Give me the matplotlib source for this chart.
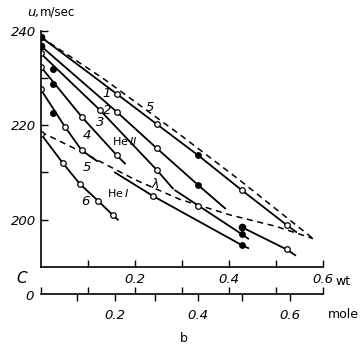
import numpy as np
import matplotlib.pyplot as plt
from matplotlib.ticker import FixedLocator, FuncFormatter

# weight fraction of He3 and sound velocity u (m/sec)
wt1 = [0.0, 0.162, 0.247, 0.335, 0.428, 0.524, 0.543]
u1 = [238.7, 226.6, 220.2, 213.6, 206.2, 198.8, 197.4]
wt2 = [0.0, 0.162, 0.247, 0.335, 0.392]
u2 = [236.8, 222.8, 215.1, 207.3, 202.4]
wt3 = [0.0, 0.126, 0.247, 0.281]
u3 = [235.2, 223.2, 210.5, 206.6]
wt4 = [0.0, 0.087, 0.162, 0.179]
u4 = [232.4, 221.8, 213.6, 211.9]
wt5 = [0.0, 0.052, 0.087, 0.12]
u5 = [227.6, 219.6, 214.7, 212.4]
wt6 = [0.0, 0.047, 0.083, 0.122, 0.154, 0.164]
u6 = [218.2, 212.0, 207.6, 204.0, 200.9, 200.0]

# He I branches
wt7 = [0.428, 0.523, 0.541]
u7 = [198.4, 193.7, 192.5]
wt8 = [0.286, 0.335, 0.428, 0.441]
u8 = [206.2, 203.0, 196.9, 196.0]
wt9 = [0.158, 0.239, 0.428, 0.441]
u9 = [210.0, 205.0, 194.6, 194.0]

# dashed curves
wt_s = [0.0, 0.137, 0.296, 0.424, 0.579]
u_s = [238.7, 229.6, 218.0, 208.3, 196.0]
wt_lam = [0.0, 0.084, 0.2, 0.296, 0.403, 0.5, 0.579]
u_lam = [218.6, 214.5, 208.5, 204.3, 201.0, 198.6, 196.0]

# loose filled points near the axis
wt_dots = [0.027, 0.027, 0.027]
u_dots = [232.0, 228.7, 222.5]

wt_ticks = [0.1, 0.2, 0.3, 0.4, 0.5, 0.6]
mole_ticks = [0.1, 0.2, 0.3, 0.4, 0.5, 0.6]


def wt2mole(c):
  c = np.asarray(c, dtype=float)
  return 4 * c / (3 + c)


def mole2wt(x):
  x = np.asarray(x, dtype=float)
  return 3 * x / (4 - x)


def draw_line(ax, wt, u, fill=None, ends=True):
  ax.plot(wt, u, '-', color='black', lw=1.3)
  if fill is None:
    fill = [False] * (len(wt) - 2)
  for w, v, f in zip(wt[1:-1], u[1:-1], fill):
    ax.plot(w, v, 'o', ms=4, mfc='black' if f else 'white', mec='black', mew=0.9)
  if ends:
    ax.plot(wt[0], u[0], 'o', ms=4, mfc='white', mec='black', mew=0.9)


fig = plt.figure(figsize=(3.61, 3.48), dpi=100)
ax = fig.add_axes([0.1127, 0.2328, 0.7820, 0.6790])

ax.plot(wt_s, u_s, '--', color='black', lw=1.1, dashes=(4, 3))
ax.plot(wt_lam, u_lam, '--', color='black', lw=1.1, dashes=(4, 3))
draw_line(ax, wt1, u1, fill=[False, False, True, False, False])
draw_line(ax, wt2, u2, fill=[False, False, True])
draw_line(ax, wt3, u3)
draw_line(ax, wt4, u4)
draw_line(ax, wt5, u5)
draw_line(ax, wt6, u6)
draw_line(ax, wt7, u7, ends=False)
ax.plot(wt7[0], u7[0], 'o', ms=4.5, color='black')
draw_line(ax, wt8, u8, fill=[False, True], ends=False)
draw_line(ax, wt9, u9, fill=[False, True], ends=False)
ax.plot(wt1[0], u1[0], 'o', ms=4.5, color='black')
ax.plot(wt2[0], u2[0], 'o', ms=4.5, color='black')
ax.plot(wt_dots, u_dots, 'o', ms=4, color='black')

ax.set_xlim(0, 0.6)
ax.set_ylim(190, 240)
for s in ['top', 'right']:
  ax.spines[s].set_visible(False)
for s in ['left', 'bottom']:
  ax.spines[s].set_linewidth(1.2)

ax.xaxis.set_major_locator(FixedLocator(wt_ticks))
ax.xaxis.set_major_formatter(FuncFormatter(
  lambda v, p: ('%.1f' % v) if round(v * 10) % 2 == 0 else ''))
ax.yaxis.set_major_locator(FixedLocator([200, 220, 240]))
ax.yaxis.set_minor_locator(FixedLocator([210, 230]))
ax.tick_params(axis='both', which='both', direction='in', length=5,
               width=1.0, labelsize=9.5)
ax.tick_params(axis='x', pad=4)
for lab in ax.get_xticklabels() + ax.get_yticklabels():
  lab.set_fontstyle('italic')

# mole fraction axis below
ax2 = ax.secondary_xaxis(-0.114, functions=(wt2mole, mole2wt))
ax2.spines['bottom'].set_linewidth(1.2)
ax2.xaxis.set_major_locator(FixedLocator(mole_ticks))
ax2.xaxis.set_major_formatter(FuncFormatter(
  lambda v, p: ('%.1f' % v) if round(v * 10) % 2 == 0 else ''))
ax2.xaxis.set_minor_locator(FixedLocator(
  [float(wt2mole(t)) for t in [0.0] + wt_ticks]))
ax2.tick_params(axis='x', which='major', direction='out', length=5,
                width=1.0, labelsize=9.5, pad=6)
ax2.tick_params(axis='x', which='minor', direction='in', length=5, width=1.0)
for lab in ax2.get_xticklabels():
  lab.set_fontstyle('italic')

# texts
kw = dict(fontsize=9.5, fontstyle='italic', ha='center', va='center')
ax.text(0.141, 226.8, '1', **kw)
ax.text(0.141, 223.2, '2', **kw)
ax.text(0.126, 220.6, '3', **kw)
ax.text(0.098, 217.9, '4', **kw)
ax.text(0.233, 223.8, '5', **kw)
ax.text(0.098, 211.1, '5', **kw)
ax.text(0.094, 203.9, '6', **kw)
ax.text(0.243, 207.6, r'$\lambda$', fontsize=9, ha='center', va='center')
ax.text(0.179, 216.6, 'He$\\,II$', fontsize=8, ha='center', va='center')
ax.text(0.164, 205.6, 'He$\\,I$', fontsize=8, ha='center', va='center')

fig.text(0.075, 0.965, 'u,', fontsize=9.5, fontstyle='italic', ha='left', va='center')
fig.text(0.11, 0.965, 'm/sec', fontsize=8.5, ha='left', va='center')
fig.text(0.06, 0.20, 'C', fontsize=11, fontstyle='italic', ha='center', va='center')
fig.text(0.083, 0.147, '0', fontsize=9.5, fontstyle='italic', ha='center', va='center')
fig.text(0.95, 0.19, 'wt', fontsize=9, ha='center', va='center')
fig.text(0.95, 0.095, 'mole', fontsize=9, ha='center', va='center')
fig.text(0.51, 0.028, 'b', fontsize=9, ha='center', va='center')

fig.savefig('out.png', dpi=100)
